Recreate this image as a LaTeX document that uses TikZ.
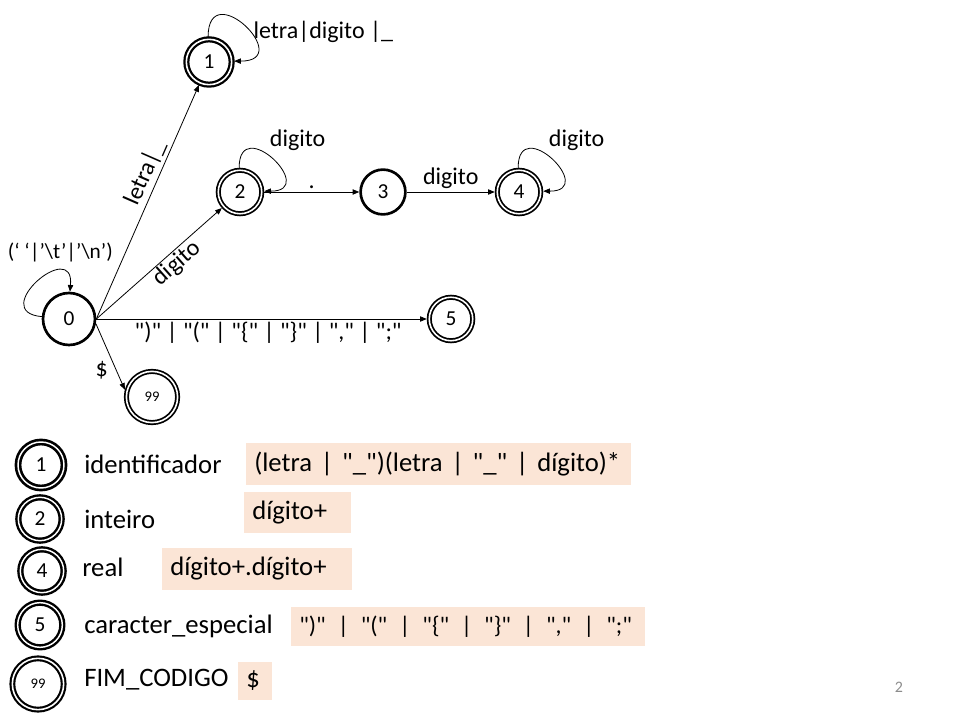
\documentclass[tikz,border=0pt]{standalone}
\usepackage{fontspec}
\setmainfont{Carlito}[Ligatures=TeXOff]
\usetikzlibrary{arrows.meta,positioning}
\definecolor{tokenfill}{HTML}{FBE5D6}
\definecolor{pagegray}{HTML}{8C8C8C}
\newcommand{\orbar}{\hspace{9pt}|\hspace{9pt}}

\begin{document}
\begin{tikzpicture}[x=0.75pt, y=0.75pt,
    fsm state/.style={draw, circle, line width=2pt, inner sep=0pt, outer sep=1pt, font=\fontsize{16}{18}\selectfont},
    fsm final/.style={draw, circle, double, line width=1.3pt, double distance=1.2pt, inner sep=0pt, outer sep=1.9pt, font=\fontsize{16}{18}\selectfont},
    fsm edge/.style={-{Triangle[length=5pt,width=4pt]}, line width=0.6pt},
    fsm label/.style={font=\fontsize{18}{21}\selectfont, inner sep=2pt},
    legend text/.style={anchor=west, inner sep=0pt, font=\fontsize{20}{24}\selectfont},
    token box/.style={fill=tokenfill, anchor=west, inner xsep=6pt, inner ysep=0pt, align=left, font=\fontsize{20}{24}\selectfont}]
  \useasboundingbox (0,0) rectangle (960,-720);

  \node[fsm state, minimum size=39pt] (s0) at (69,-319) {0};
  \node[fsm final, minimum size=34pt, line width=1.7pt] (s1) at (209,-62) {1};
  \node[fsm final, minimum size=32.6pt] (s2) at (240,-192) {2};
  \node[fsm state, minimum size=33.6pt] (s3) at (383,-192) {3};
  \node[fsm final, minimum size=32.6pt] (s4) at (519,-192) {4};
  \node[fsm final, minimum size=32.6pt] (s5) at (451,-319) {5};
  \node[fsm final, minimum size=38.4pt, font=\fontsize{11}{12}\selectfont] (s99) at (152,-397) {99};

  \draw[fsm edge] (s0.east) -- node[fsm label, sloped, above, pos=0.6] {letra|\_} (s1);
  \draw[fsm edge] (s0.east) -- node[fsm label, sloped, below=-1pt, pos=0.58] {digito} (s2);
  \draw[fsm edge] (s0.east) -- node[fsm label, below, pos=0.52] {")" | "(" | "\{" | "\}" | "," | ";"} (s5);
  \draw[fsm edge] (s0.-10) -- node[fsm label, left=4pt, pos=0.7] {\$} (s99.165);
  \draw[fsm edge] (s2) -- node[fsm label, above] {.} (s3);
  \draw[fsm edge] (s3) -- node[fsm label, above] {digito} (s4);

  \draw[fsm edge] (s0.175) .. controls +(175:55) and +(85:55) .. node[fsm label, pos=0.55, above=10pt, xshift=14pt, font=\fontsize{16}{19}\selectfont] {(‘ ‘|’\textbackslash t’|’\textbackslash n’)} (s0.88);
  \draw[fsm edge] (s1.92) .. controls +(90:62) and +(0:62) .. node[fsm label, pos=0.6, right, inner sep=1pt, yshift=2pt] {letra|digito |\_} (s1.2);
  \draw[fsm edge] (s2.92) .. controls +(90:55) and +(0:55) .. node[fsm label, pos=0.45, above right, inner sep=1pt, yshift=2pt] {digito} (s2.2);
  \draw[fsm edge] (s4.92) .. controls +(90:55) and +(0:55) .. node[fsm label, pos=0.45, above right, inner sep=1pt, yshift=2pt] {digito} (s4.2);

  \node[fsm final, minimum size=34.5pt, line width=2pt, double distance=1.1pt] (leg1) at (41,-465) {1};
  \node[fsm final, minimum size=32.5pt, line width=1.8pt, double distance=1.1pt] (leg2) at (40,-519) {2};
  \node[fsm final, minimum size=32.5pt, line width=1.8pt, double distance=1.1pt] (leg4) at (42,-571) {4};
  \node[fsm final, minimum size=33.5pt, line width=1.8pt, double distance=1.1pt] (leg5) at (40,-625) {5};
  \node[fsm final, minimum size=38.5pt, line width=1.6pt, double distance=1.2pt, font=\fontsize{11}{12}\selectfont] (leg99) at (38,-684) {99};

  \node[legend text] (name1) at (84,-464) {identificador};
  \node[legend text] (name2) at (84,-519) {inteiro};
  \node[legend text] (name4) at (82,-567) {real};
  \node[legend text] (name5) at (84,-626) {caracter\_especial};
  \node[legend text] (name99) at (84,-680) {FIM\_CODIGO};

  \node[token box, text width=276.75pt, minimum height=31.5pt] (rule1) at (246,-464) {\mbox{(letra | "\_")(letra | "\_" | dígito)*}};
  \node[token box, text width=68.25pt, minimum height=30.75pt] (rule2) at (244,-512.5) {\mbox{dígito+}};
  \node[token box, text width=130.5pt, minimum height=31.5pt] (rule4) at (162,-569) {\mbox{dígito+.dígito+}};
  \node[token box, text width=253.5pt, minimum height=29.25pt, font=\fontsize{18}{21}\selectfont] (rule5) at (291,-626.5) {\mbox{")"\orbar"("\orbar"\{"\orbar"\}"\orbar","\orbar";"}};
  \node[token box, text width=13.5pt, minimum height=28.5pt] (rule99) at (238,-681) {\mbox{\$}};

  \node[text=pagegray, font=\fontsize{12}{14}\selectfont] (pagenum) at (899,-687) {2};
\end{tikzpicture}
\end{document}
